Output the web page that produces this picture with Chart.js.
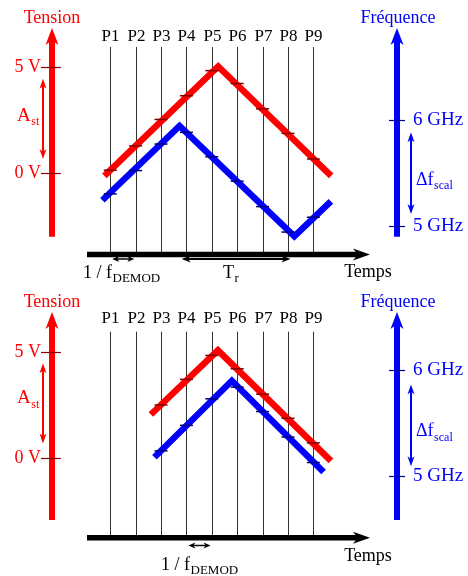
<!DOCTYPE html>
<html>
<head>
<meta charset="utf-8">
<script src="https://cdn.jsdelivr.net/npm/chart.js@4"></script>
<style>
  html, body { margin: 0; padding: 0; background: #fff; }
  .panel { position: relative; width: 468px; }
  #top { height: 284px; }
  #bot { height: 292px; }
  canvas { display: block; }
</style>
</head>
<body>
<div class="panel" id="top"><canvas id="chartTop"></canvas></div>
<div class="panel" id="bot"><canvas id="chartBot"></canvas></div>
<script>
// probe positions P1..P9 on the time axis
const probeLabels = ['P1', 'P2', 'P3', 'P4', 'P5', 'P6', 'P7', 'P8', 'P9'];
const probeX = [1, 2, 3, 4, 5, 6, 7, 8, 9];
const tensionTicks = [5, 0];
const tensionTickLabels = ['5 V', '0 V'];
const freqTicks = [6, 5];
const freqTickLabels = ['6 GHz', '5 GHz'];

// top panel : tension (V) and frequency (GHz)
const topTensionX = [0.77, 5.25, 9.7];
const topTensionV = [-0.13, 5.05, -0.13];
const topTensionMarks = [0.14, 1.29, 2.54, 3.66, 4.85, 4.24, 3.04, 1.88, 0.67];
const topFreqX = [0.69, 3.73, 8.25, 9.69];
const topFreqGHz = [5.24, 5.94, 4.90, 5.23];
const topFreqMarks = [5.30, 5.52, 5.77, 5.88, 5.65, 5.42, 5.18, 4.94, 5.08];

// bottom panel
const botTensionX = [2.6, 5.24, 9.69];
const botTensionV = [2.04, 5.07, -0.15];
const botTensionMarks = [null, null, 2.49, 3.70, 4.83, 4.20, 3.00, 1.86, 0.70];
const botFreqX = [2.74, 5.79, 9.40];
const botFreqGHz = [5.18, 5.90, 5.04];
const botFreqMarks = [null, null, 5.24, 5.48, 5.73, 5.84, 5.61, 5.37, 5.13];

const FONT = "'Liberation Serif', 'DejaVu Serif', serif";
const RED = '#ff0000', BLUE = '#0000ff';

function txt(ctx, s, x, y, size, color, align) {
    ctx.font = size + 'px ' + FONT;
    ctx.fillStyle = color;
    ctx.textAlign = align || 'center';
    ctx.textBaseline = 'middle';
    ctx.fillText(s, x, y);
}

// main text + subscript, starting at x (left)
function subTxt(ctx, main, sub, x, y, size, subSize, color) {
    ctx.font = size + 'px ' + FONT;
    const w = ctx.measureText(main).width;
    txt(ctx, main, x, y, size, color, 'left');
    txt(ctx, sub, x + w + 0.5, y + size * 0.32, subSize, color, 'left');
}

function head(ctx, tx, ty, ang, len, half, color) {
    const c = Math.cos(ang), s = Math.sin(ang);
    const pt = (a, b) => [tx - a * c - b * s, ty - a * s + b * c];
    ctx.fillStyle = color;
    ctx.beginPath();
    ctx.moveTo(...pt(0, 0));
    ctx.lineTo(...pt(len, half));
    ctx.lineTo(...pt(len * 0.72, 0));
    ctx.lineTo(...pt(len, -half));
    ctx.closePath();
    ctx.fill();
}

function arrow(ctx, x1, y1, x2, y2, o) {
    const ang = Math.atan2(y2 - y1, x2 - x1);
    const c = Math.cos(ang), s = Math.sin(ang);
    const cut = o.len * 0.6;
    let sx = x1, sy = y1, ex = x2, ey = y2;
    if (o.start) { sx += c * cut; sy += s * cut; }
    if (o.end) { ex -= c * cut; ey -= s * cut; }
    ctx.strokeStyle = o.color;
    ctx.lineWidth = o.w;
    ctx.lineCap = 'butt';
    ctx.beginPath();
    ctx.moveTo(sx, sy);
    ctx.lineTo(ex, ey);
    ctx.stroke();
    if (o.end) head(ctx, x2, y2, ang, o.len, o.half, o.color);
    if (o.start) head(ctx, x1, y1, ang + Math.PI, o.len, o.half, o.color);
}

function makeDecor(p) {
    return {
        id: 'decor',
        beforeDatasetsDraw(chart) {
            const ctx = chart.ctx, x = chart.scales.x;
            ctx.save();
            ctx.strokeStyle = '#333';
            ctx.lineWidth = 1;
            probeX.forEach((v, i) => {
                const px = Math.round(x.getPixelForValue(v)) + 0.5;
                ctx.beginPath();
                ctx.moveTo(px, p.lineTop);
                ctx.lineTo(px, p.axisY);
                ctx.stroke();
                txt(ctx, probeLabels[i], px, p.probeY, 17, '#000');
            });
            ctx.restore();
        },
        afterDatasetsDraw(chart) {
            const ctx = chart.ctx, x = chart.scales.x, yV = chart.scales.yV, yF = chart.scales.yF;
            ctx.save();

            // time axis
            arrow(ctx, 87, p.axisY, 370, p.axisY, { w: 5.5, len: 17, half: 6, color: '#000', end: true });
            txt(ctx, 'Temps', 368, 272, 18, '#000');

            // period arrows
            p.periods.forEach(d => {
                arrow(ctx, x.getPixelForValue(d.from), d.y, x.getPixelForValue(d.to), d.y,
                    { w: d.w, len: d.len, half: d.half, color: '#000', start: true, end: true });
            });
            p.periodLabels.forEach(d => subTxt(ctx, d.main, d.sub, d.x, d.y, 18, 13, '#000'));

            // tension axis
            arrow(ctx, 52, p.axisBottom, 52, p.arrowTop, { w: 6, len: 17, half: 6.5, color: RED, end: true });
            txt(ctx, 'Tension', 52, 18, 18, RED);
            tensionTicks.forEach((v, i) => {
                const py = Math.round(yV.getPixelForValue(v)) + 0.5;
                ctx.strokeStyle = '#8b0000';
                ctx.lineWidth = 1.2;
                ctx.beginPath(); ctx.moveTo(41, py); ctx.lineTo(61, py); ctx.stroke();
                txt(ctx, tensionTickLabels[i], 41, py, 18, RED, 'right');
            });
            arrow(ctx, 43, yV.getPixelForValue(p.ampFrom), 43, yV.getPixelForValue(p.ampTo),
                { w: 2, len: 10, half: 3.5, color: RED, start: true, end: true });
            subTxt(ctx, 'A', 'st', 17, yV.getPixelForValue(p.ampLabel), 19, 12, RED);

            // frequency axis
            arrow(ctx, 397, p.axisBottom, 397, p.arrowTop, { w: 6, len: 17, half: 6.5, color: BLUE, end: true });
            txt(ctx, 'Fréquence', 398, 18, 18, BLUE);
            freqTicks.forEach((v, i) => {
                const py = Math.round(yF.getPixelForValue(v)) + 0.5;
                ctx.strokeStyle = '#00008b';
                ctx.lineWidth = 1.2;
                ctx.beginPath(); ctx.moveTo(389, py); ctx.lineTo(405, py); ctx.stroke();
                txt(ctx, freqTickLabels[i], 413, py, 19, BLUE, 'left');
            });
            arrow(ctx, 411, yF.getPixelForValue(p.dfFrom), 411, yF.getPixelForValue(p.dfTo),
                { w: 2, len: 10, half: 3.5, color: BLUE, start: true, end: true });
            subTxt(ctx, '\u0394f', 'scal', 416, yF.getPixelForValue(p.dfLabel), 18, 12, BLUE);

            ctx.restore();
        }
    };
}

function toPoints(xs, ys) {
    return xs.map((v, i) => ({ x: v, y: ys[i] })).filter(d => d.y !== null);
}

function makeChart(id, p) {
    return new Chart(document.getElementById(id), {
        type: 'line',
        data: {
            datasets: [
                { data: toPoints(probeX, p.tensionMarks), yAxisID: 'yV', showLine: false,
                  pointStyle: 'line', pointRadius: 6.5, pointBorderWidth: 1.5, pointBorderColor: '#7a0000', order: 0 },
                { data: toPoints(probeX, p.freqMarks), yAxisID: 'yF', showLine: false,
                  pointStyle: 'line', pointRadius: 6.5, pointBorderWidth: 1.5, pointBorderColor: '#00006e', order: 0 },
                { data: toPoints(p.tensionX, p.tensionV), yAxisID: 'yV', borderColor: RED, borderWidth: 6.5,
                  pointRadius: 0, tension: 0, borderJoinStyle: 'miter', borderCapStyle: 'butt', fill: false, order: 1 },
                { data: toPoints(p.freqX, p.freqGHz), yAxisID: 'yF', borderColor: BLUE, borderWidth: 6.5,
                  pointRadius: 0, tension: 0, borderJoinStyle: 'miter', borderCapStyle: 'butt', fill: false, order: 1 }
            ]
        },
        options: {
            responsive: true,
            maintainAspectRatio: false,
            animation: false,
            devicePixelRatio: 1,
            events: [],
            layout: { padding: 0 },
            plugins: { legend: { display: false }, tooltip: { enabled: false } },
            scales: {
                x: { type: 'linear', display: false, min: -3.026, max: 14.774 },
                yV: { type: 'linear', display: false, min: p.vRange[0], max: p.vRange[1] },
                yF: { type: 'linear', display: false, min: p.fRange[0], max: p.fRange[1] }
            }
        },
        plugins: [makeDecor(p)]
    });
}

makeChart('chartTop', {
    tensionX: topTensionX, tensionV: topTensionV, tensionMarks: topTensionMarks,
    freqX: topFreqX, freqGHz: topFreqGHz, freqMarks: topFreqMarks,
    vRange: [-4.866, 7.8125], fRange: [4.5258, 7.0525],
    probeY: 36.5, lineTop: 47, axisY: 254.5, arrowTop: 28, axisBottom: 236.7,
    ampFrom: 4.46, ampTo: 0.67, ampLabel: 2.72,
    dfFrom: 5.88, dfTo: 5.11, dfLabel: 5.43,
    periods: [
        { from: 1.076, to: 1.95, y: 259, w: 1.5, len: 7, half: 3 },
        { from: 3.81, to: 8.1, y: 259, w: 2, len: 9, half: 3.5 }
    ],
    periodLabels: [
        { main: '1 / f', sub: 'DEMOD', x: 83, y: 273 },
        { main: 'T', sub: 'r', x: 223, y: 273 }
    ]
});

makeChart('chartBot', {
    tensionX: botTensionX, tensionV: botTensionV, tensionMarks: botTensionMarks,
    freqX: botFreqX, freqGHz: botFreqGHz, freqMarks: botFreqMarks,
    vRange: [-5.21, 7.826], fRange: [4.1362, 6.7364],
    probeY: 35, lineTop: 47.7, axisY: 253.7, arrowTop: 28, axisBottom: 236,
    ampFrom: 4.46, ampTo: 0.67, ampLabel: 2.8,
    dfFrom: 5.866, dfTo: 5.095, dfLabel: 5.42,
    periods: [
        { from: 4.076, to: 4.95, y: 261.5, w: 1.5, len: 7, half: 3 }
    ],
    periodLabels: [
        { main: '1 / f', sub: 'DEMOD', x: 161, y: 281 }
    ]
});
</script>
</body>
</html>
